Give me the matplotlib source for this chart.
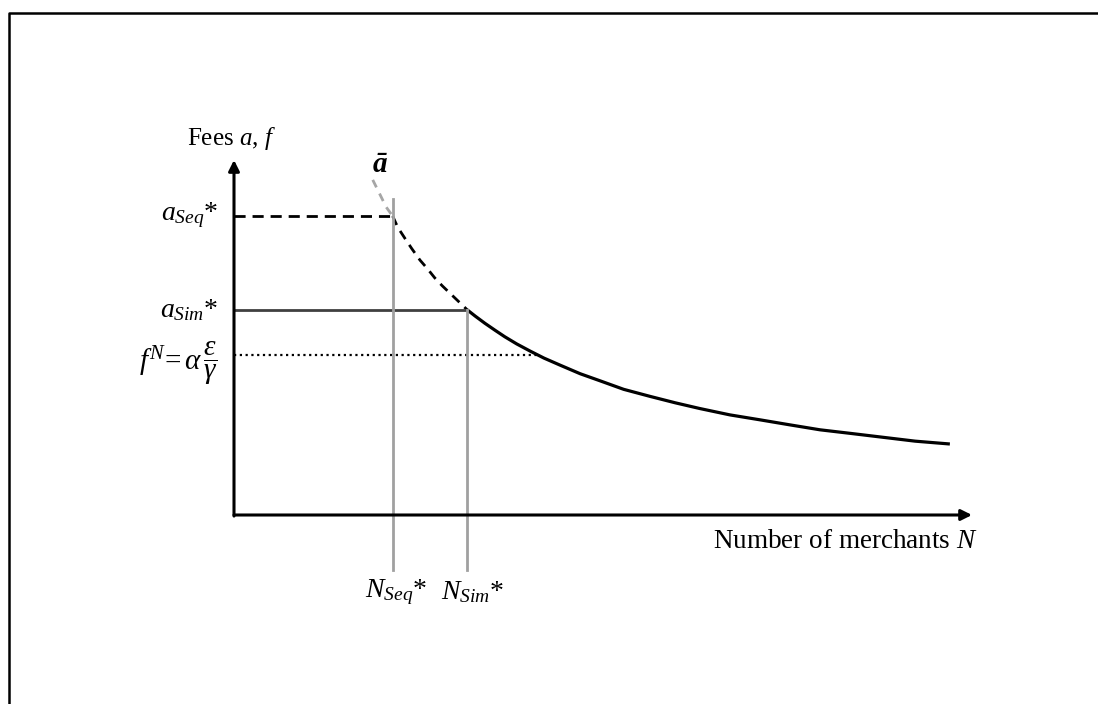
import matplotlib.pyplot as plt
from matplotlib.lines import Line2D

plt.rcParams['font.family'] = 'Liberation Serif'
plt.rcParams['mathtext.fontset'] = 'custom'
plt.rcParams['mathtext.rm'] = 'Liberation Serif'
plt.rcParams['mathtext.it'] = 'Liberation Serif:italic'
plt.rcParams['mathtext.bf'] = 'Liberation Serif:bold'

# curve a-bar(N), points
curve_n = [1.88, 1.98, 2.06, 2.15, 2.22, 2.32, 2.41, 2.52, 2.62, 2.72, 2.82,
           2.93, 3.04, 3.16, 3.27, 3.40, 3.54, 3.67, 3.83, 4.01, 4.20, 4.42,
           4.69, 4.96, 5.28, 5.64, 5.98, 6.31, 6.72, 7.13, 7.53, 7.94, 8.35,
           8.75, 9.23, 9.70]
curve_a = [4.72, 4.51, 4.34, 4.21, 4.05, 3.89, 3.75, 3.59, 3.47, 3.34, 3.23,
           3.12, 3.01, 2.89, 2.80, 2.70, 2.60, 2.51, 2.41, 2.31, 2.21, 2.11,
           1.99, 1.89, 1.77, 1.67, 1.58, 1.50, 1.41, 1.34, 1.27, 1.20, 1.15,
           1.10, 1.04, 1.00]

n_seq = 2.15      # N_Seq*
n_sim = 3.16      # N_Sim*
a_seq = 4.21      # a_Seq*
a_sim = 2.89      # a_Sim*
f_n = 2.25        # f^N = alpha*eps/gamma
n_fn = 4.15       # where the curve meets f^N
x_end = 10.0
y_end = 5.0

fig = plt.figure(figsize=(10.98, 7.04), dpi=100)
ax = fig.add_axes([0, 0, 1, 1])
ax.set_xlim(-234 / 73.8, (1098 - 234) / 73.8)
ax.set_ylim((515 - 704) / 71, 515 / 71)
ax.axis('off')

# frame (top and left only)
fig.add_artist(Line2D([9 / 1098, 9 / 1098, 1.0], [0.0, 1 - 13 / 704, 1 - 13 / 704],
                      color='black', lw=1.8, transform=fig.transFigure))

# axes with arrows
ax.annotate('', xy=(x_end, 0), xytext=(0, 0),
            arrowprops=dict(arrowstyle='-|>', lw=2.2, color='black', mutation_scale=16,
                            shrinkA=0, shrinkB=0))
ax.annotate('', xy=(0, y_end), xytext=(0, -0.015),
            arrowprops=dict(arrowstyle='-|>', lw=2.2, color='black', mutation_scale=16,
                            shrinkA=0, shrinkB=0))

# split the curve into its three pieces
i_seq = curve_n.index(n_seq)
i_sim = curve_n.index(n_sim)
ax.plot(curve_n[:i_seq + 1], curve_a[:i_seq + 1], color='#a6a6a6', lw=2.0,
        linestyle=(0, (3, 2.5)))
ax.plot(curve_n[i_seq:i_sim + 1], curve_a[i_seq:i_sim + 1], color='black', lw=2.0,
        linestyle=(0, (3.5, 2.5)))
ax.plot(curve_n[i_sim:], curve_a[i_sim:], color='black', lw=2.3,
        solid_capstyle='butt', solid_joinstyle='round')

# horizontal levels
ax.plot([0, n_seq], [a_seq, a_seq], color='black', lw=2.0, linestyle=(0, (4, 2.5)))
ax.plot([0, n_sim], [a_sim, a_sim], color='#404040', lw=2.0)
ax.plot([0, n_fn], [f_n, f_n], color='black', lw=1.6, linestyle=(0, (1, 1.6)))

# vertical lines down to the N labels
ax.plot([n_seq, n_seq], [4.45, -0.77], color='#a0a0a0', lw=2.0)
ax.plot([n_sim, n_sim], [a_sim, -0.77], color='#a0a0a0', lw=2.0)

ax.text(-0.04, 5.30, 'Fees $a$, $f$', fontsize=18, ha='center', va='center')
ax.text(1.98, 4.93, 'ā', fontsize=21, ha='center', va='center',
        fontstyle='italic', fontweight='bold')
ax.text(-0.22, a_seq + 0.02, '$a_{Seq}$*', fontsize=20, ha='right', va='center')
ax.text(-0.22, a_sim + 0.0, '$a_{Sim}$*', fontsize=20, ha='right', va='center')
ax.text(-0.22, f_n - 0.11, r'$f^{N}\!=\alpha\,\dfrac{\varepsilon}{\gamma}$', fontsize=21,
        ha='right', va='center')
ax.text(n_seq + 0.04, -1.08, '$N_{Seq}$*', fontsize=20, ha='center', va='center')
ax.text(n_sim + 0.07, -1.08, '$N_{Sim}$*', fontsize=20, ha='center', va='center')
ax.text(8.28, -0.37, 'Number of merchants $N$', fontsize=19.5, ha='center', va='center')

fig.savefig('out.png', dpi=100)
